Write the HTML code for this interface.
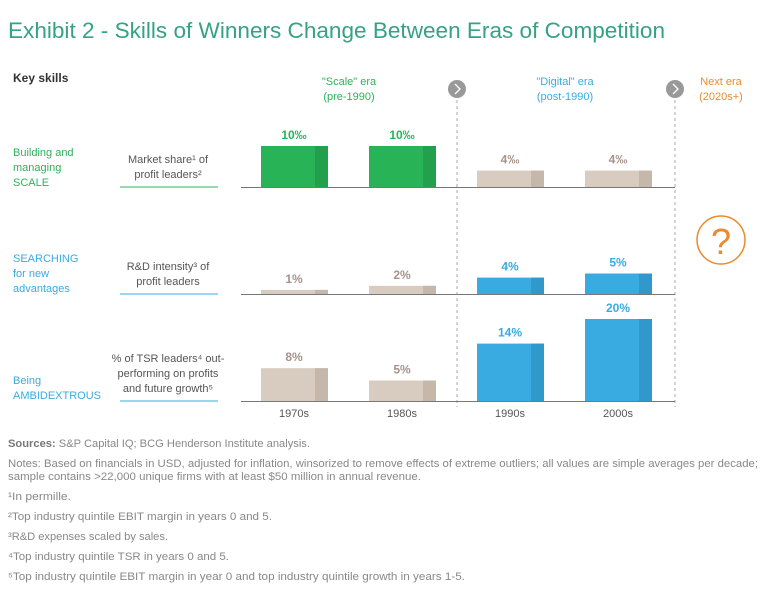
<!DOCTYPE html>
<html><head><meta charset="utf-8"><style>
body{margin:0;background:#fff;}
svg{display:block;font-family:"Liberation Sans",sans-serif;}
</style></head><body>
<svg id="c" width="768" height="609" viewBox="0 0 768 609">
<text x="8" y="38" font-size="22" fill="#35a283" textLength="657" lengthAdjust="spacingAndGlyphs">Exhibit 2 - Skills of Winners Change Between Eras of Competition</text>
<text x="13" y="82" font-size="12" font-weight="bold" fill="#333">Key skills</text>
<g font-size="11" text-anchor="middle">
<text x="349" y="85" fill="#2fb05a">"Scale" era</text>
<text x="349" y="100" fill="#2fb05a">(pre-1990)</text>
<text x="565" y="85" fill="#3aabe0">"Digital" era</text>
<text x="565" y="100" fill="#3aabe0">(post-1990)</text>
<text x="721" y="85" fill="#ea8a2c">Next era</text>
<text x="721" y="100" fill="#ea8a2c">(2020s+)</text>
</g>
<line x1="457" y1="100" x2="457" y2="407" stroke="#aaa" stroke-dasharray="3,3"/>
<line x1="675" y1="100" x2="675" y2="407" stroke="#aaa" stroke-dasharray="3,3"/>
<g><circle cx="457" cy="89" r="9" fill="#999"/><path d="M455,84 L460,89 L455,94" fill="none" stroke="#fff" stroke-width="1.3"/></g>
<g><circle cx="675" cy="89" r="9" fill="#999"/><path d="M673,84 L678,89 L673,94" fill="none" stroke="#fff" stroke-width="1.3"/></g>
<g><circle cx="721" cy="240" r="24" fill="none" stroke="#ea8a2c" stroke-width="1.5"/><text x="721" y="254" font-size="36" fill="#ea8a2c" text-anchor="middle">?</text></g>
<g font-size="11">
<text x="13" y="156" fill="#2fb05a"><tspan x="13">Building and</tspan><tspan x="13" dy="15">managing</tspan><tspan x="13" dy="15">SCALE</tspan></text>
<text x="13" y="262" fill="#3aabe0"><tspan x="13">SEARCHING</tspan><tspan x="13" dy="15">for new</tspan><tspan x="13" dy="15">advantages</tspan></text>
<text x="13" y="384" fill="#3aabe0"><tspan x="13">Being</tspan><tspan x="13" dy="15">AMBIDEXTROUS</tspan></text>
<g fill="#555" text-anchor="middle">
<text x="168" y="163"><tspan x="168">Market share¹ of</tspan><tspan x="168" dy="15">profit leaders²</tspan></text>
<text x="168" y="270"><tspan x="168">R&amp;D intensity³ of</tspan><tspan x="168" dy="15">profit leaders</tspan></text>
<text x="168" y="362"><tspan x="168">% of TSR leaders⁴ out-</tspan><tspan x="168" dy="15">performing on profits</tspan><tspan x="168" dy="15">and future growth⁵</tspan></text>
</g></g>
<line x1="120" y1="187" x2="218" y2="187" stroke="#2fb05a"/>
<line x1="120" y1="294" x2="218" y2="294" stroke="#3aabe0"/>
<line x1="120" y1="401" x2="218" y2="401" stroke="#3aabe0"/>
<g id="bars"></g>
<g font-size="11" fill="#888">
<text x="8" y="447" textLength="302" lengthAdjust="spacingAndGlyphs"><tspan font-weight="bold" fill="#777">Sources:</tspan> S&amp;P Capital IQ; BCG Henderson Institute analysis.</text>
<text x="8" y="467" textLength="750" lengthAdjust="spacingAndGlyphs">Notes: Based on financials in USD, adjusted for inflation, winsorized to remove effects of extreme outliers; all values are simple averages per decade;</text>
<text x="8" y="480" textLength="413" lengthAdjust="spacingAndGlyphs">sample contains &gt;22,000 unique firms with at least $50 million in annual revenue.</text>
<text x="8" y="500" textLength="63" lengthAdjust="spacingAndGlyphs">¹In permille.</text>
<text x="8" y="520" textLength="264" lengthAdjust="spacingAndGlyphs">²Top industry quintile EBIT margin in years 0 and 5.</text>
<text x="8" y="540" textLength="160" lengthAdjust="spacingAndGlyphs">³R&amp;D expenses scaled by sales.</text>
<text x="8" y="560" textLength="221" lengthAdjust="spacingAndGlyphs">⁴Top industry quintile TSR in years 0 and 5.</text>
<text x="8" y="580" textLength="457" lengthAdjust="spacingAndGlyphs">⁵Top industry quintile EBIT margin in year 0 and top industry quintile growth in years 1-5.</text>
</g>
</svg>
<script>
const decades = ["1970s","1980s","1990s","2000s"];
const marketShare = [10,10,4,4];
const rdIntensity = [1,2,4,5];
const tsrOutperform = [8,5,14,20];
const units = ["‰","%","%"];
const highlight = [[true,true,false,false],[false,false,true,true],[false,false,true,true]];
const ns="http://www.w3.org/2000/svg";
const g=document.getElementById('bars');
const rows=[marketShare,rdIntensity,tsrOutperform];
const baselines=[187,294,401];
const pxPerUnit=4.1;
function xPos(i){return 261+i*108;}
function yLen(v){return v*pxPerUnit;}
rows.forEach((vals,r)=>{
  const b=baselines[r];
  const axis=document.createElementNS(ns,'line');
  axis.setAttribute('x1',241);axis.setAttribute('x2',675);axis.setAttribute('y1',b+0.5);axis.setAttribute('y2',b+0.5);
  axis.setAttribute('stroke','#777');
  
  
  g.appendChild(axis);
  vals.forEach((v,i)=>{
    const h=yLen(v), x=xPos(i);
    const hi=highlight[r][i];
    const light=hi?(r===0?"#27b356":"#3aabe0"):"#d8cbc0";
    const dark=hi?(r===0?"#22a04c":"#3198cb"):"#c6b7ab";
    const grp=document.createElementNS(ns,'g');
    
    
    const a=document.createElementNS(ns,'rect');
    a.setAttribute('x',x);a.setAttribute('y',b-h);a.setAttribute('width',67);a.setAttribute('height',h);a.setAttribute('fill',light);
    const d=document.createElementNS(ns,'rect');
    d.setAttribute('x',x+54);d.setAttribute('y',b-h);d.setAttribute('width',13);d.setAttribute('height',h);d.setAttribute('fill',dark);
    grp.appendChild(a);grp.appendChild(d);
    g.appendChild(grp);
    const t=document.createElementNS(ns,'text');
    t.setAttribute('x',x+33);t.setAttribute('y',b-h-7);t.setAttribute('text-anchor','middle');
    t.setAttribute('font-size','12');t.setAttribute('font-weight','bold');
    t.setAttribute('fill',hi?(r===0?"#27b356":"#3aabe0"):"#a8928a");
    t.textContent=v+units[r];
    
    
    g.appendChild(t);
  });
});
decades.forEach((d,i)=>{
  const t=document.createElementNS(ns,'text');
  t.setAttribute('x',xPos(i)+33);t.setAttribute('y',417);t.setAttribute('text-anchor','middle');
  t.setAttribute('font-size','11');t.setAttribute('fill','#555');
  t.textContent=d;
  
  
  g.appendChild(t);
});
</script>
</body></html>
